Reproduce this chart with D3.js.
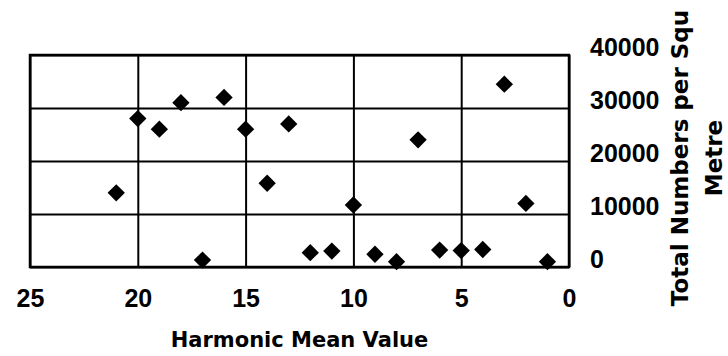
<!DOCTYPE html>
<html>
<head>
<meta charset="utf-8">
<script src="https://cdn.jsdelivr.net/npm/d3@7"></script>
<style>
  html, body { margin: 0; padding: 0; background: #fff; }
  svg { display: block; }
</style>
</head>
<body>
<svg id="chart" width="728" height="356"></svg>
<script>
// harmonic mean value vs total numbers per square metre
const harmonicMean = [21, 20, 19, 18, 17, 16, 15, 14, 13, 12, 11, 10, 9, 8, 7, 6, 5, 4, 3, 2, 1];
const totalNumbers = [14000, 28000, 26000, 31000, 1300, 32000, 26000, 15800, 27000, 2700, 3000,
                      11700, 2400, 1000, 24000, 3200, 3100, 3300, 34500, 12000, 1000];
const xTicks = [25, 20, 15, 10, 5, 0];
const yTicks = [0, 10000, 20000, 30000, 40000];

const plotLeft = 30, plotRight = 569, plotTop = 55, plotBottom = 267;

let svg = d3.select('#chart');

let x = d3.scaleLinear().domain([25, 0]).range([plotLeft, plotRight]);
let y = d3.scaleLinear().domain([0, 40000]).range([plotBottom, plotTop]);

// x grid + labels
let gx = svg.append('g')
  .attr('transform', `translate(0,${plotBottom})`)
  .call(d3.axisBottom(x)
    .tickValues(xTicks)
    .tickSize(-(plotBottom - plotTop))
    .tickPadding(22)
    .tickFormat(d3.format('d')));

// y grid + labels on the right
let gy = svg.append('g')
  .attr('transform', `translate(${plotRight},0)`)
  .call(d3.axisRight(y)
    .tickValues(yTicks)
    .tickSize(-(plotRight - plotLeft))
    .tickPadding(21)
    .tickFormat(d3.format('d')));

[gx, gy].forEach(g => {
  g.select('.domain').remove();
  g.selectAll('.tick line').attr('stroke', '#000').attr('stroke-width', 2);
  g.selectAll('.tick text')
    .attr('fill', '#000')
    .style('font-family', '"Liberation Sans", Arial, sans-serif')
    .style('font-weight', 'bold')
    .style('font-size', '25px');
});
gy.selectAll('.tick text').attr('dy', '0');

// plot border
svg.append('rect')
  .attr('x', plotLeft)
  .attr('y', plotTop)
  .attr('width', plotRight - plotLeft)
  .attr('height', plotBottom - plotTop)
  .attr('fill', 'none')
  .attr('stroke', '#000')
  .attr('stroke-width', 2.5);

// diamonds
let diamond = d3.symbol().type(d3.symbolSquare).size(150);

svg.append('g')
  .selectAll('path')
  .data(harmonicMean.map((d, i) => ({ x: d, y: totalNumbers[i] })))
  .enter()
  .append('path')
  .attr('d', diamond)
  .attr('transform', d => `translate(${x(d.x)},${y(d.y)}) rotate(45)`)
  .attr('fill', '#000');

// axis titles
svg.append('text')
  .attr('x', (plotLeft + plotRight) / 2)
  .attr('y', 347)
  .attr('text-anchor', 'middle')
  .style('font-family', '"DejaVu Sans", sans-serif')
  .style('font-weight', 'bold')
  .style('font-size', '21px')
  .text('Harmonic Mean Value');

let yTitle = svg.append('text')
  .attr('transform', 'translate(0,158) rotate(-90)')
  .attr('text-anchor', 'middle')
  .style('font-family', '"DejaVu Sans", sans-serif')
  .style('font-weight', 'bold')
  .style('font-size', '23px');

yTitle.append('tspan').attr('x', 0).attr('y', 688).text('Total Numbers per Squ');
yTitle.append('tspan').attr('x', 0).attr('y', 722).text('Metre');
</script>
</body>
</html>
